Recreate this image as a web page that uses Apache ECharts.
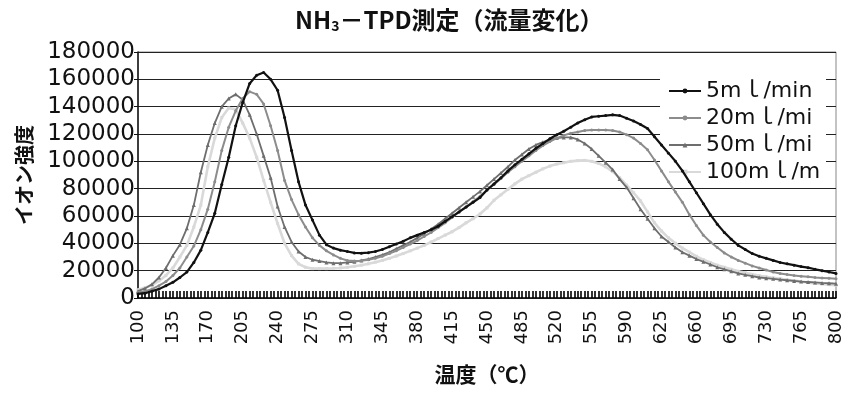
<!DOCTYPE html>
<html>
<head>
<meta charset="utf-8">
<script src="https://cdn.jsdelivr.net/npm/echarts@6/dist/echarts.min.js"></script>
<style>
html,body{margin:0;padding:0;background:#fff;}
#c{width:856px;height:396px;}
</style>
</head>
<body>
<div id="c"></div>
<script>
// Temperature categories (°C), step 7
const temps = ['100','107','114','121','128','135','142','149','156','163','170','177','184','191','198','205','212','219','226','233','240','247','254','261','268','275','282','289','296','303','310','317','324','331','338','345','352','359','366','373','380','387','394','401','408','415','422','429','436','443','450','457','464','471','478','485','492','499','506','513','520','527','534','541','548','555','562','569','576','583','590','597','604','611','618','625','632','639','646','653','660','667','674','681','688','695','702','709','716','723','730','737','744','751','758','765','772','779','786','793','800'];

const seriesNames = ['5mｌ/min','20mｌ/min','50mｌ/min','100mｌ/min'];

const flow5 = [3000,3500,5000,6500,9000,11500,15000,19000,26000,35000,48000,62000,83000,103000,126000,143000,157000,163000,165000,160000,152000,132000,108000,85000,68000,57000,46000,39000,36500,35000,34000,33000,32800,33200,34000,35500,37500,39500,41500,44000,46000,48000,50000,52500,56000,59500,63000,66500,70000,73500,79000,83500,88000,93000,97500,101500,105500,109500,113000,116500,119500,122000,125000,128000,130500,132500,133000,133500,134000,133500,131500,129500,127000,124000,118000,112000,106000,100000,93000,85000,77000,69000,61000,54000,48000,43000,38500,35500,32500,30500,29000,27500,26000,25000,24000,23000,22200,21000,20000,19000,18000];

const flow20 = [4000,5000,6500,9000,12000,16500,22000,30000,38000,50000,65000,85000,108000,125000,137000,146000,151000,149000,142000,126000,108000,86000,72000,61000,52000,44000,38500,34500,31500,29000,27500,27000,27200,28000,29000,30500,32500,34500,37000,39500,42000,45000,48000,51500,55000,59000,63000,66500,70500,74500,79000,83000,87500,92000,96000,100000,104000,108000,111500,114500,117000,119000,120500,121500,122500,123000,123000,123000,122500,121500,119500,117000,113000,108500,101000,93000,85000,77500,70000,61000,53000,46000,41000,37000,33000,30000,27500,25500,23500,22000,20500,19000,18000,17200,16500,16000,15500,15000,14700,14400,14000];

const flow50 = [5000,7000,10000,15000,22000,31000,39000,51000,68000,92000,112000,128000,140000,146000,149000,145000,134000,120000,104000,88000,67000,52000,41000,34000,30000,28000,27000,26000,25500,25500,26000,26500,27500,28500,30000,31500,33500,36000,38500,41000,44000,47000,50500,54000,58000,62000,66000,70000,74000,78000,82500,87000,91500,96000,101000,105000,109000,112000,114000,116000,117000,117500,117500,116000,113000,109000,104000,99000,94000,87000,81000,73000,65000,58000,51000,45000,41000,37000,33500,31000,28500,26500,24500,22500,21000,19500,18000,17000,16000,15000,14500,14000,13500,13000,12500,12000,11700,11400,11000,10800,10500];

const flow100 = [6000,7500,9500,12500,16500,22000,30000,38500,52000,68000,96000,117000,132000,139000,138000,128000,117000,103000,86000,70000,54500,40000,31000,25000,22500,21500,21500,21500,21700,22000,22500,23200,24000,25000,26200,27500,29000,30700,32500,34500,36500,38500,41000,43500,46000,48500,51500,55000,58000,61500,66000,71500,75500,79500,83500,87000,89500,92000,94500,96500,98000,99000,100000,100500,100700,100000,98500,96000,92500,88000,82500,77000,71000,63000,55000,49000,44000,40000,36500,33500,30500,28000,26000,24000,22500,21000,19500,18500,17300,16300,15500,14700,14000,13300,12700,12000,11300,10700,10200,9800,9400];

// Y tick values
const yMin = 0, yMax = 180000, yStep = 20000;

// decorative tick slots (no labels)
const tickSlots = new Array(201).fill('');

const chart = echarts.init(document.getElementById('c'), null, {renderer:'canvas'});
const numFont = 'DejaVu Sans';
const cjkFont = '"Noto Sans CJK JP", sans-serif';

chart.setOption({
  animation: false,
  backgroundColor: '#fff',
  title: {
    text: 'NH{s|3}－TPD測定（流量変化）',
    left: 290, top: 2,
    textStyle: {
      fontFamily: cjkFont, fontWeight: 'bold', fontSize: 24, color: '#111',
      rich: { s: { fontFamily: cjkFont, fontWeight: 'bold', fontSize: 14, verticalAlign: 'bottom', padding: [12,0,0,0], color:'#111' } }
    }
  },
  legend: {
    data: seriesNames,
    orient: 'vertical',
    left: 660, top: 77,
    z: 1,
    backgroundColor: '#fff',
    padding: [3, 0, 3, 8],
    itemWidth: 32, itemHeight: 6, itemGap: 5,
    textStyle: { fontFamily: numFont + ', "Noto Sans CJK JP"', fontSize: 22, lineHeight: 22, color: '#111', width: 120, overflow: 'truncate', ellipsis: '' }
  },
  grid: { left: 138, right: 20, top: 52, bottom: 98, show: true, borderColor: '#888', borderWidth: 1, backgroundColor: 'transparent' },
  xAxis: [{
    type: 'category',
    data: temps,
    boundaryGap: false,
    axisLine: { lineStyle: { color: '#111', width: 1.5 } },
    axisTick: { show: false },
    axisLabel: { interval: 4, rotate: 90, margin: 12, fontFamily: numFont, fontSize: 18, color: '#111' },
    name: '温度（℃）',
    nameLocation: 'middle', nameGap: 66,
    nameTextStyle: { fontFamily: cjkFont, fontWeight: 'bold', fontSize: 21, color: '#111' },
    splitLine: { show: false }
  }, {
    type: 'category',
    data: tickSlots,
    boundaryGap: false,
    position: 'bottom',
    axisLine: { show: false },
    axisTick: { show: true, interval: 0, inside: true, length: 7, lineStyle: { color: '#000', width: 1.6 } },
    axisLabel: { show: false },
    splitLine: { show: false }
  }],
  yAxis: {
    type: 'value',
    min: yMin, max: yMax, interval: yStep,
    axisLine: { show: true, lineStyle: { color: '#111', width: 1.5 } },
    axisTick: { show: true, length: 4, lineStyle: { color: '#111' } },
    axisLabel: { margin: 3, fontFamily: numFont, fontSize: 23, color: '#111', formatter: function (v) { return String(v); } },
    splitLine: { show: true, lineStyle: { color: '#222', width: 1.2 } },
    name: 'イオン強度',
    nameLocation: 'middle', nameRotate: 90, nameGap: 104,
    nameTextStyle: { fontFamily: cjkFont, fontWeight: 'bold', fontSize: 20, color: '#111' }
  },
  series: [
    { name: seriesNames[0], type: 'line', data: flow5, z: 5, symbol: 'circle', symbolSize: 3, showSymbol: true,
      lineStyle: { color: '#111', width: 2.2 }, itemStyle: { color: '#111' } },
    { name: seriesNames[1], type: 'line', data: flow20, z: 4, symbol: 'circle', symbolSize: 3, showSymbol: true,
      lineStyle: { color: '#8c8c8c', width: 2 }, itemStyle: { color: '#8c8c8c' } },
    { name: seriesNames[2], type: 'line', data: flow50, z: 3, symbol: 'triangle', symbolSize: 4, showSymbol: true,
      lineStyle: { color: '#6e6e6e', width: 1.8 }, itemStyle: { color: '#6e6e6e' } },
    { name: seriesNames[3], type: 'line', data: flow100, z: 2, symbol: 'rect', symbolSize: 3, showSymbol: true,
      lineStyle: { color: '#d9d9d9', width: 2.6 }, itemStyle: { color: '#d9d9d9' } }
  ]
});
</script>
</body>
</html>
